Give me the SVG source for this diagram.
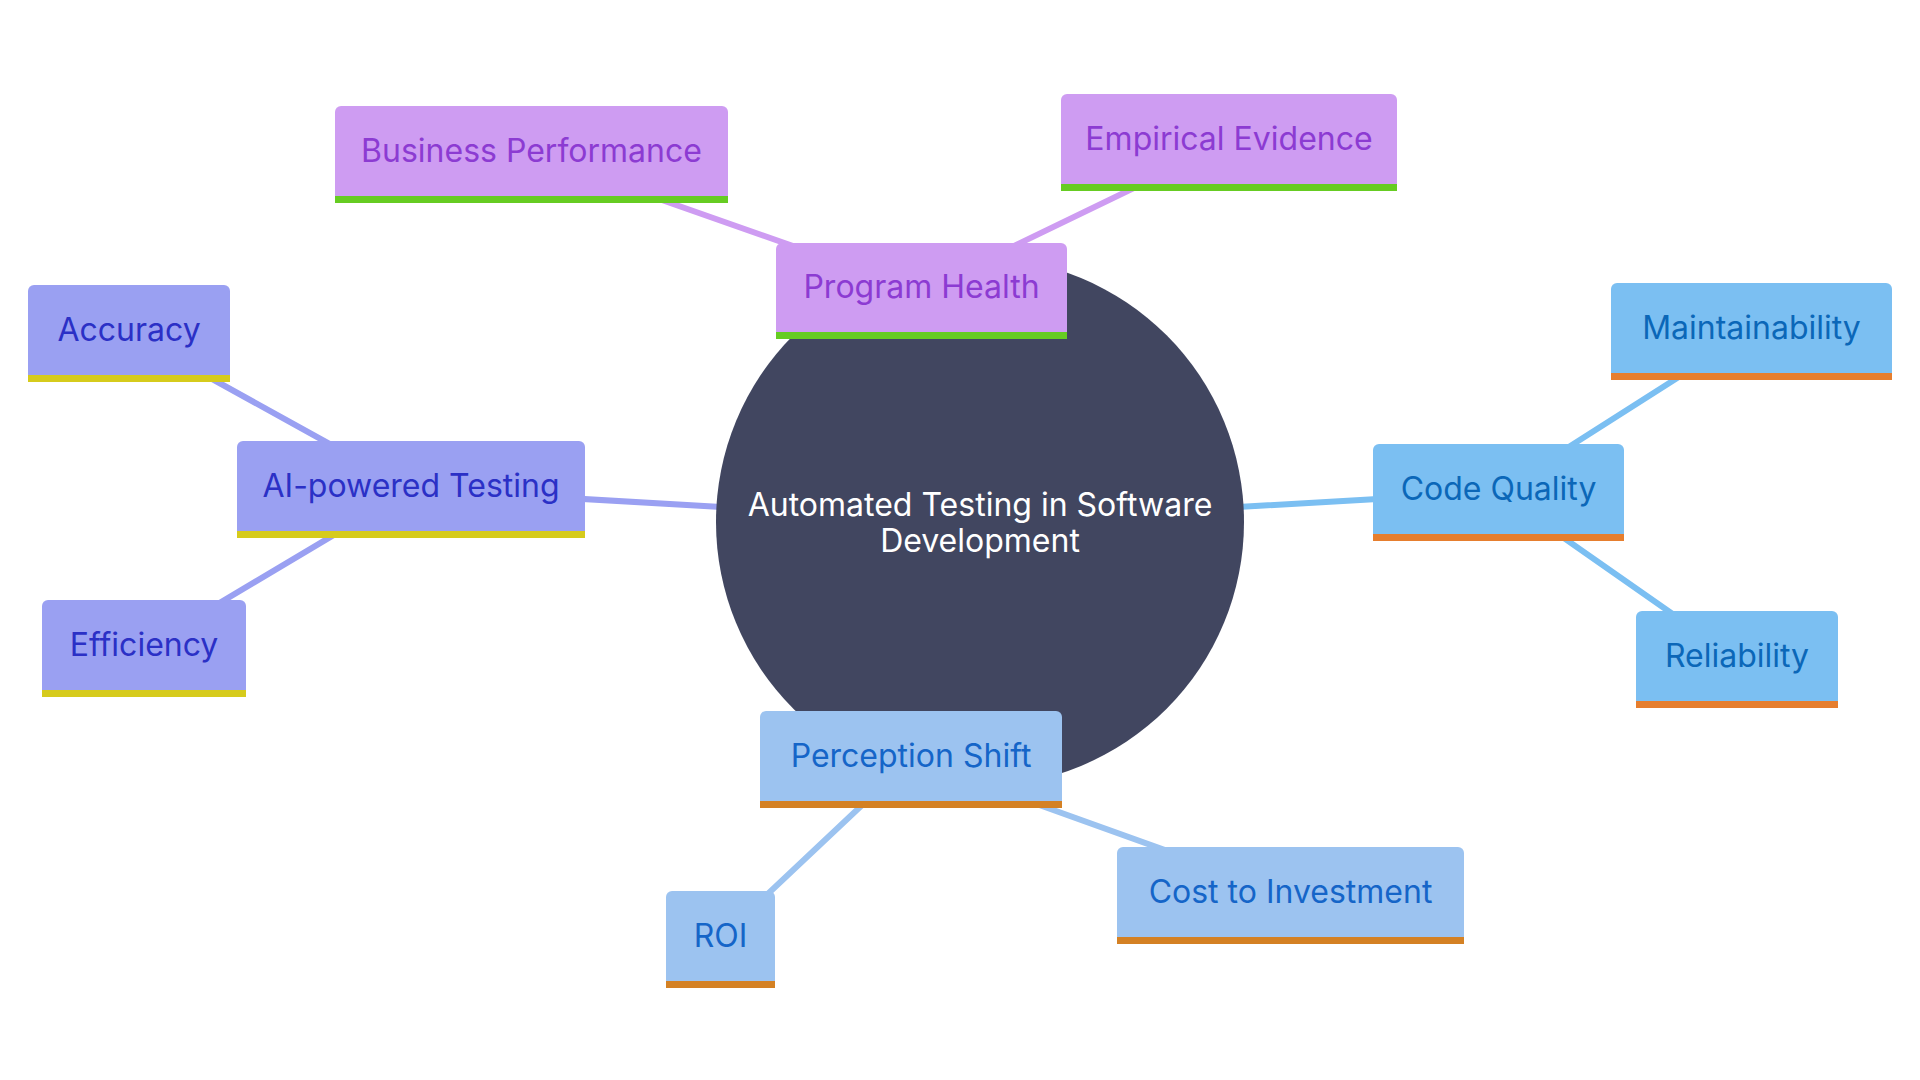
<svg xmlns="http://www.w3.org/2000/svg" width="1920" height="1080" viewBox="0 0 1920 1080">
<style>
text{font-family:Inter,"Noto Sans","Liberation Sans",sans-serif;font-size:32px;text-anchor:middle}
.e{fill:none;stroke-width:6;stroke-linecap:round}
.pu .b{fill:#ce9cf2}.pu .s{fill:#66cc22}.pu text{fill:#8c3bd2}
.vi .b{fill:#9aa0f2}.vi .s{fill:#d6cb1c}.vi text{fill:#2b30c6}
.bl .b{fill:#7bbff2}.bl .s{fill:#e67e2e}.bl text{fill:#0b67b8}
.lb .b{fill:#9cc3f0}.lb .s{fill:#d48124}.lb text{fill:#1565c8}
</style>
<rect width="1920" height="1080" fill="#ffffff"/>
<g id="connectors">
<line class="e" stroke="#ce9cf2" x1="921" y1="291" x2="531" y2="154"/>
<line class="e" stroke="#ce9cf2" x1="921" y1="291" x2="1229" y2="142"/>
<line class="e" stroke="#ce9cf2" x1="980" y1="522" x2="921" y2="291"/>
<line class="e" stroke="#9aa0f2" x1="411" y1="489" x2="129" y2="333"/>
<line class="e" stroke="#9aa0f2" x1="411" y1="489" x2="144" y2="648"/>
<line class="e" stroke="#9aa0f2" x1="980" y1="522" x2="411" y2="489"/>
<line class="e" stroke="#7bbff2" x1="980" y1="522" x2="1498" y2="492"/>
<line class="e" stroke="#7bbff2" x1="1498" y1="492" x2="1751" y2="331"/>
<line class="e" stroke="#7bbff2" x1="1498" y1="492" x2="1737" y2="659"/>
<line class="e" stroke="#9cc3f0" x1="980" y1="522" x2="911" y2="759"/>
<line class="e" stroke="#9cc3f0" x1="911" y1="759" x2="720" y2="939"/>
<line class="e" stroke="#9cc3f0" x1="911" y1="759" x2="1290" y2="895"/>
</g>
<g id="root">
<circle cx="980" cy="522" r="264" fill="#414660"/>
<text x="980" y="516" fill="#ffffff" font-size="33">Automated Testing in Software</text>
<text x="980" y="552" fill="#ffffff" font-size="33">Development</text>
</g>
<g id="program-health" class="pu"><rect class="b" x="776" y="243" width="291" height="96" rx="6"/><rect class="s" x="776" y="332" width="291" height="7"/><text x="921.5" y="298">Program Health</text></g>
<g id="business-performance" class="pu"><rect class="b" x="335" y="106" width="393" height="97" rx="6"/><rect class="s" x="335" y="196" width="393" height="7"/><text x="531.5" y="162">Business Performance</text></g>
<g id="empirical-evidence" class="pu"><rect class="b" x="1061" y="94" width="336" height="97" rx="6"/><rect class="s" x="1061" y="184" width="336" height="7"/><text x="1229" y="150">Empirical Evidence</text></g>
<g id="ai-powered-testing" class="vi"><rect class="b" x="237" y="441" width="348" height="97" rx="6"/><rect class="s" x="237" y="531" width="348" height="7"/><text x="411" y="497">AI-powered Testing</text></g>
<g id="accuracy" class="vi"><rect class="b" x="28" y="285" width="202" height="97" rx="6"/><rect class="s" x="28" y="375" width="202" height="7"/><text x="129" y="341">Accuracy</text></g>
<g id="efficiency" class="vi"><rect class="b" x="42" y="600" width="204" height="97" rx="6"/><rect class="s" x="42" y="690" width="204" height="7"/><text x="144" y="656">Efficiency</text></g>
<g id="code-quality" class="bl"><rect class="b" x="1373" y="444" width="251" height="97" rx="6"/><rect class="s" x="1373" y="534" width="251" height="7"/><text x="1498.5" y="500">Code Quality</text></g>
<g id="maintainability" class="bl"><rect class="b" x="1611" y="283" width="281" height="97" rx="6"/><rect class="s" x="1611" y="373" width="281" height="7"/><text x="1751.5" y="339">Maintainability</text></g>
<g id="reliability" class="bl"><rect class="b" x="1636" y="611" width="202" height="97" rx="6"/><rect class="s" x="1636" y="701" width="202" height="7"/><text x="1737" y="667">Reliability</text></g>
<g id="perception-shift" class="lb"><rect class="b" x="760" y="711" width="302" height="97" rx="6"/><rect class="s" x="760" y="801" width="302" height="7"/><text x="911" y="767">Perception Shift</text></g>
<g id="roi" class="lb"><rect class="b" x="666" y="891" width="109" height="97" rx="6"/><rect class="s" x="666" y="981" width="109" height="7"/><text x="720.5" y="947">ROI</text></g>
<g id="cost-to-investment" class="lb"><rect class="b" x="1117" y="847" width="347" height="97" rx="6"/><rect class="s" x="1117" y="937" width="347" height="7"/><text x="1290.5" y="903">Cost to Investment</text></g>
</svg>
